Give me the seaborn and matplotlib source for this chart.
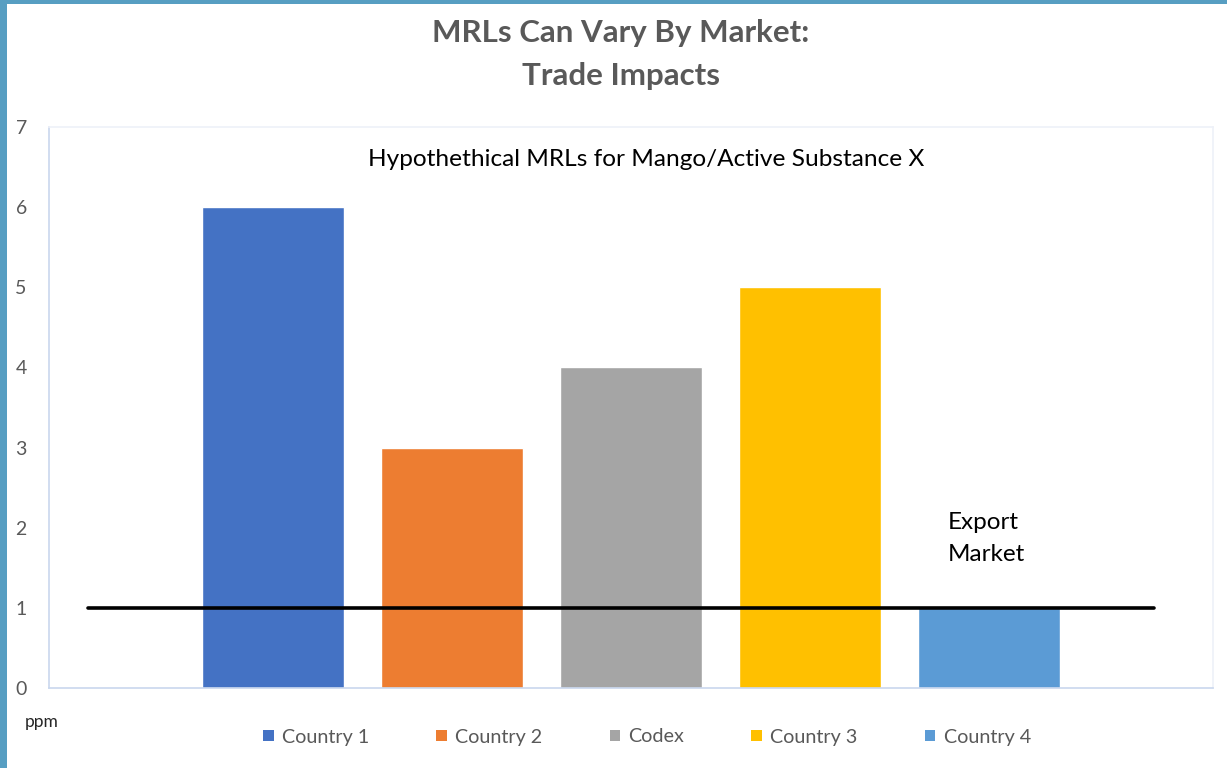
import matplotlib
matplotlib.use("Agg")
import matplotlib.pyplot as plt
import seaborn as sns
import pandas as pd
from matplotlib.patches import Rectangle, Patch

categories = ["Country 1", "Country 2", "Codex", "Country 3", "Country 4"]
values = [6, 3, 4, 5, 1]
colors = ["#4472C4", "#ED7D31", "#A5A5A5", "#FFC000", "#5B9BD5"]
export_limit = 1
yticks = [0, 1, 2, 3, 4, 5, 6, 7]

sns.set_theme(style="white")
plt.rcParams['font.family'] = ['Lato', 'DejaVu Sans']

W, H = 1227, 768
fig = plt.figure(figsize=(W / 100, H / 100), dpi=100)
fig.patch.set_facecolor("white")

ax = fig.add_axes([49 / W, 1 - 688 / H, (1213 - 49) / W, (688 - 127) / H])
df = pd.DataFrame({"cat": categories, "val": values})
sns.barplot(data=df, x="cat", y="val", hue="cat", palette=colors, width=0.79,
            legend=False, ax=ax, saturation=1)
ax.set_xlim(-1.25, 5.25)
ax.set_ylim(0, 7)
ax.set_yticks(yticks)
ax.set_xticks([])
ax.set_xlabel("")
ax.set_ylabel("")
ax.tick_params(axis="y", length=0, pad=16, labelsize=14, labelcolor="#595959")
for s in ["left", "bottom"]:
    ax.spines[s].set_color("#C9D7EE")
    ax.spines[s].set_linewidth(1.2)
for s in ["top", "right"]:
    ax.spines[s].set_color("#EEF1F8")
    ax.spines[s].set_linewidth(1.2)

ax.plot([-1.03, 4.92], [export_limit, export_limit], color="black", lw=2.6, zorder=5)

ax.text(0.513, 0.942, "Hypothethical MRLs for Mango/Active Substance X", transform=ax.transAxes,
        ha="center", va="center", fontsize=17.6, color="black")
ax.text(3.77, 2.07, "Export", ha="left", va="center", fontsize=17.5, color="black")
ax.text(3.77, 1.66, "Market", ha="left", va="center", fontsize=17.5, color="black")

fig.text(621 / W, 1 - 33 / H, "MRLs Can Vary By Market:", ha="center", va="center",
         fontsize=22.5, fontweight="bold", color="#595959")
fig.text(621 / W, 1 - 76 / H, "Trade Impacts", ha="center", va="center",
         fontsize=22.5, fontweight="bold", color="#595959")
fig.text(25 / W, 1 - 722 / H, "ppm", ha="left", va="center", fontsize=12.5, color="#262626")

handles = [Patch(facecolor=c, edgecolor="none", label=l) for c, l in zip(colors, categories)]
leg = fig.legend(handles=handles, loc="center", bbox_to_anchor=(647 / W, 1 - 737 / H), ncol=5,
                 frameon=False, fontsize=14.2, handlelength=0.55, handleheight=0.55,
                 handletextpad=0.41, columnspacing=3.4)
for t in leg.get_texts():
    t.set_color("#595959")

# frame border (left and top)
fig.add_artist(Rectangle((0, 0), 7 / W, 1, transform=fig.transFigure, color="#579EC2", lw=0))
fig.add_artist(Rectangle((0, 1 - 4 / H), 1, 4 / H, transform=fig.transFigure, color="#579EC2", lw=0))

fig.savefig("out.png", dpi=100)
